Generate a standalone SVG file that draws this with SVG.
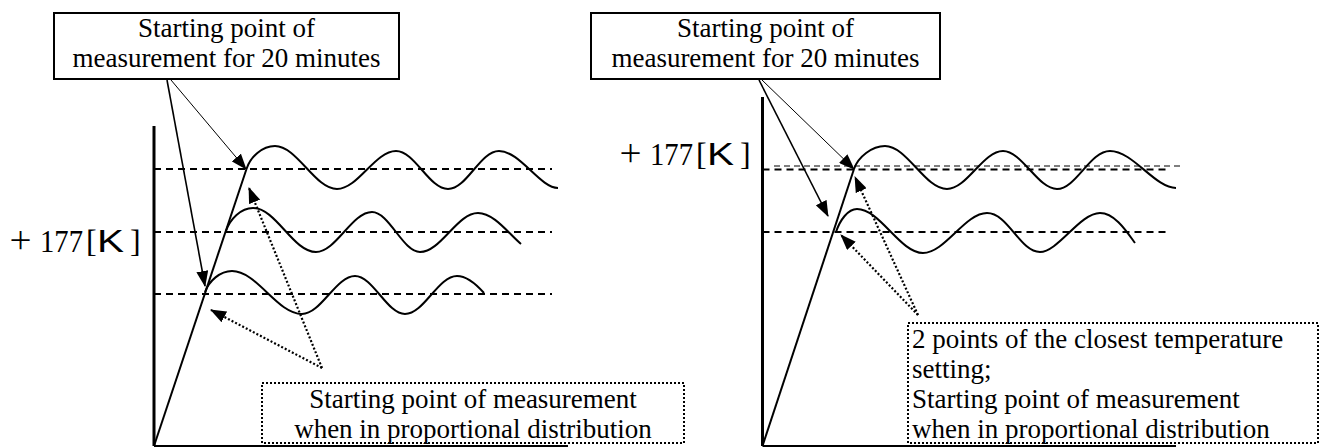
<svg xmlns="http://www.w3.org/2000/svg" width="1321" height="447" viewBox="0 0 1321 447">
<style>
.serif{font-family:"Liberation Serif","Times New Roman",serif;font-size:27px;fill:#000}
.sans{font-family:"Liberation Sans",Arial,sans-serif;fill:#000}
.thin{font-family:Inter,"DejaVu Sans",sans-serif;font-weight:200;fill:#000}
.lbl{font-family:"Liberation Serif","Times New Roman",serif;font-size:32px;fill:#000}
.box{fill:#fff;stroke:#000;stroke-width:2}
.dbox{fill:#fff;stroke:#000;stroke-width:2;stroke-dasharray:2 2}
.axis{stroke:#000;stroke-width:3;fill:none}
.base{stroke:#000;stroke-width:2;fill:none}
.ramp{stroke:#000;stroke-width:2;fill:none}
.wave{stroke:#000;stroke-width:2;fill:none}
.dash{stroke:#000;stroke-width:2;stroke-dasharray:7 5;fill:none}
.dash2{stroke:#000;stroke-width:1.2;stroke-dasharray:6 4;fill:none}
.a1{stroke:#000;stroke-width:1;fill:none;marker-end:url(#ah)}
.a2{stroke:#000;stroke-width:1.6;fill:none;marker-end:url(#ah)}
.ad{stroke:#000;stroke-width:2.2;stroke-dasharray:2 2;fill:none;marker-end:url(#ah2)}
</style>
<defs>
<marker id="ah" viewBox="0 0 16 12" refX="15" refY="6" markerWidth="16" markerHeight="12" markerUnits="userSpaceOnUse" orient="auto">
<path d="M0,0 L16,6 L0,12 Z" fill="#000"/>
</marker>
<marker id="ah2" viewBox="0 0 16 12" refX="15" refY="6" markerWidth="16" markerHeight="12" markerUnits="userSpaceOnUse" orient="auto">
<path d="M0,0 L16,6 L0,12 Z" fill="#000"/>
</marker>
</defs>

<g id="left-chart">
<line class="axis" x1="154" y1="126" x2="154" y2="446"/>
<line class="base" x1="154" y1="446" x2="568" y2="446"/>
<line class="dash" x1="154" y1="169" x2="552" y2="169"/>
<line class="dash" x1="154" y1="232" x2="552" y2="232"/>
<line class="dash" x1="154" y1="294" x2="552" y2="294"/>
<path class="ramp" d="M154,446 L246.5,169"/>
<path class="wave" d="M246.5,169 C250.5,157 262,146 275,146 C297,146 315,189 337,189 C358,189 375,151 396,151 C415,151 429,189 448,189 C467,189 480,151 499,151 C520,151 540,188 558,188"/>
<path class="wave" d="M226,231 C230,219 241,208 253,208 C276,208 293,252 316,252 C336,252 352,212 372,212 C389,212 403,252 420,252 C441,252 457,213 478,213 C494,213 509,234 521,244"/>
<path class="wave" d="M205,292 C209,281 220,271 232,271 C257,271 277,314 302,314 C321,314 336,276 355,276 C373,276 387,314 405,314 C424,314 438,276 457,276 C467,276 476,284 484,293"/>
</g>
<g id="right-chart">
<line class="axis" x1="762.5" y1="97" x2="762.5" y2="446"/>
<line class="base" x1="762.5" y1="446" x2="1176" y2="446"/>
<line class="dash2" x1="774" y1="166" x2="1180" y2="166"/>
<line class="dash" x1="762.5" y1="169.5" x2="1169" y2="169.5"/>
<line class="dash" x1="762.5" y1="232" x2="1169" y2="232"/>
<path class="ramp" d="M762.5,446 L854,169"/>
<path class="wave" d="M854,169 C858,157 872,146 885,146 C907,146 925,189 947,189 C967,189 983,151 1003,151 C1022,151 1038,189 1057,189 C1076,189 1090,151 1110,151 C1133,151 1155,188 1176,188"/>
<path class="wave" d="M836,232 C840,220 848,209 857,209 C880,209 900,253 923,253 C945,253 965,213 987,213 C1008,213 1020,252 1040,252 C1058,252 1080,213 1100,213 C1115,213 1127,232 1135,243"/>
</g>
<g id="label-left">
<text class="lbl" y="252"><tspan x="7" class="thin" font-size="42">+</tspan><tspan x="40" textLength="43" lengthAdjust="spacingAndGlyphs">177</tspan><tspan x="86">[</tspan><tspan x="97" class="sans" font-size="32" textLength="27" lengthAdjust="spacingAndGlyphs">K</tspan><tspan x="130">]</tspan></text>
</g>
<g id="label-right">
<text class="lbl" y="165"><tspan x="617" class="thin" font-size="42">+</tspan><tspan x="650" textLength="43" lengthAdjust="spacingAndGlyphs">177</tspan><tspan x="696">[</tspan><tspan x="707" class="sans" font-size="32" textLength="27" lengthAdjust="spacingAndGlyphs">K</tspan><tspan x="740">]</tspan></text>
</g>
<g id="box-left">
<rect class="box" x="54" y="13" width="345" height="66"/>
<text class="serif" x="226.5" y="37" text-anchor="middle">Starting point of</text>
<text class="serif" x="226.5" y="67" text-anchor="middle">measurement for 20 minutes</text>
</g>
<g id="box-right">
<rect class="box" x="591" y="13" width="349" height="66"/>
<text class="serif" x="765.5" y="37" text-anchor="middle">Starting point of</text>
<text class="serif" x="765.5" y="67" text-anchor="middle">measurement for 20 minutes</text>
</g>
<g id="note-left">
<rect class="dbox" x="262" y="383" width="422" height="60"/>
<text class="serif" x="473" y="408" text-anchor="middle">Starting point of measurement</text>
<text class="serif" x="473" y="438" text-anchor="middle">when in proportional distribution</text>
</g>
<g id="note-right">
<rect class="dbox" x="908" y="323" width="410" height="120"/>
<text class="serif" x="912" y="348">2 points of the closest temperature</text>
<text class="serif" x="912" y="378">setting;</text>
<text class="serif" x="912" y="408">Starting point of measurement</text>
<text class="serif" x="912" y="438">when in proportional distribution</text>
</g>
<g id="connectors">
<path class="a1" d="M171,80 L246,169"/>
<path class="a2" d="M167,80 L205,286"/>
<path class="ad" d="M322,368 L249,188"/>
<path class="ad" d="M322,368 L211,310"/>
<path class="a1" d="M762,80 L854,169"/>
<path class="a2" d="M759,80 L828,216"/>
<path class="ad" d="M918,315 L855,177"/>
<path class="ad" d="M918,315 L841,235"/>
</g>
</svg>
